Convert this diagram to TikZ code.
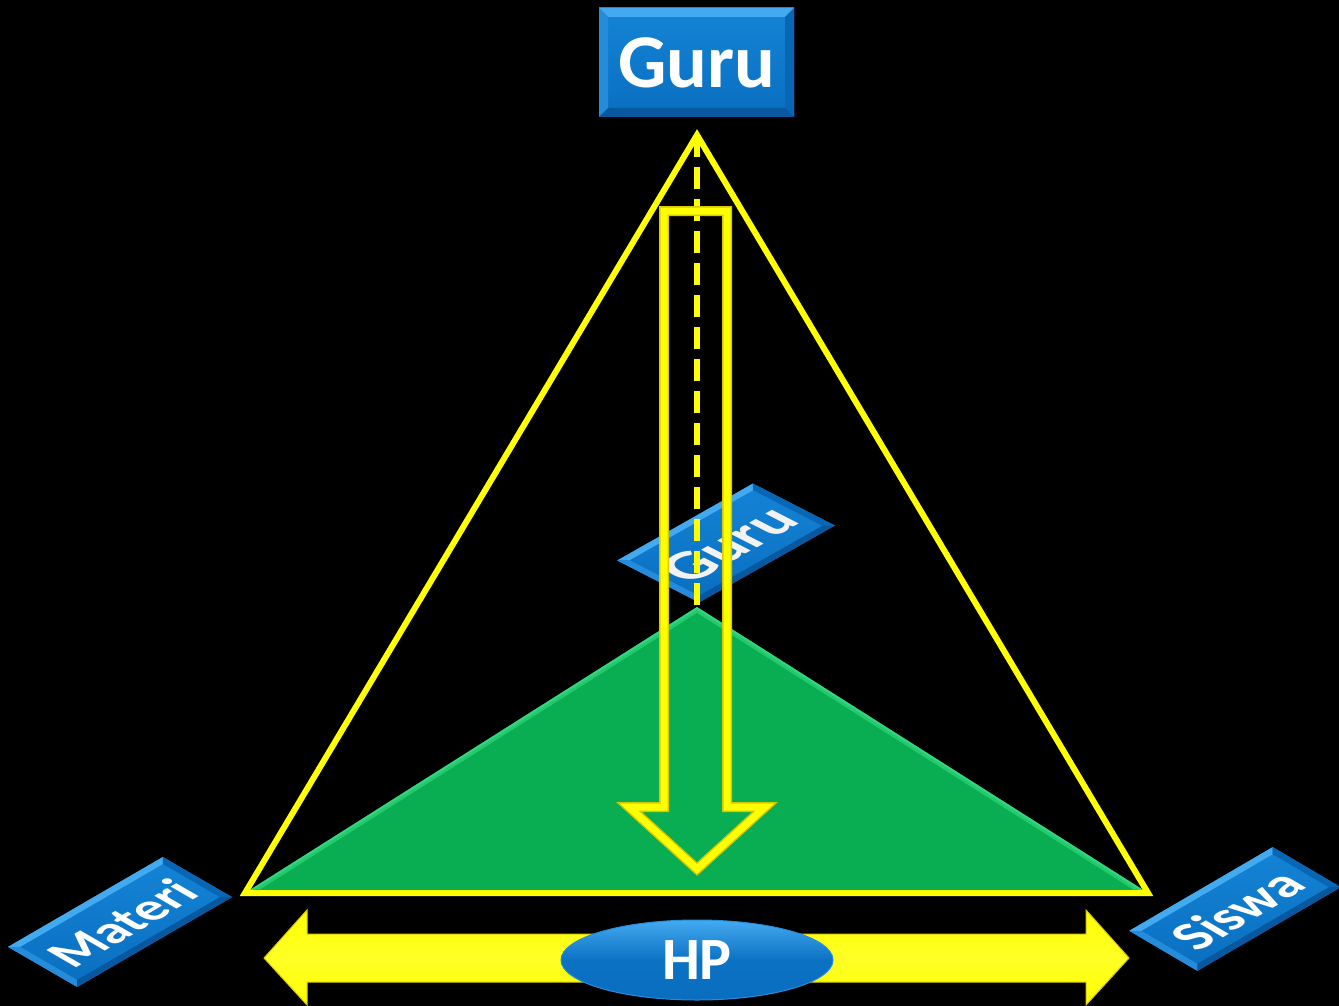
\documentclass[tikz,border=0pt]{standalone}
\usepackage{fontspec}
\setmainfont{Carlito}
\usetikzlibrary{shapes.geometric}
\definecolor{ylw}{HTML}{FFFF00}
\definecolor{ylwd}{HTML}{D8C800}
\definecolor{bmain}{HTML}{0A6EC0}
\definecolor{bupper}{HTML}{1484D6}
\definecolor{blight}{HTML}{44AAF0}
\definecolor{bleft}{HTML}{258CDC}
\definecolor{bright}{HTML}{0866B4}
\definecolor{bdark}{HTML}{07589E}
\definecolor{grn}{HTML}{0AAE52}
\definecolor{grnl}{HTML}{45E890}
\newcommand\mybevel[3]{%
  \shade[top color=bupper, bottom color=bmain] (-#1,-#2) rectangle (#1,#2);
  \fill[blight] (-#1,#2) -- (#1,#2) -- ({#1-#3},{#2-#3}) -- ({-#1+#3},{#2-#3}) -- cycle;
  \fill[bleft] (-#1,#2) -- ({-#1+#3},{#2-#3}) -- ({-#1+#3},{-#2+#3}) -- (-#1,-#2) -- cycle;
  \fill[bright] (#1,#2) -- ({#1-#3},{#2-#3}) -- ({#1-#3},{-#2+#3}) -- (#1,-#2) -- cycle;
  \fill[bdark] (-#1,-#2) -- (#1,-#2) -- ({#1-#3},{-#2+#3}) -- ({-#1+#3},{-#2+#3}) -- cycle;
}
\tikzset{
  labeltext/.style={text=white, inner sep=0pt, transform shape},
  triline/.style={draw=ylw, line width=6pt, line join=miter},
  dashline/.style={draw=ylw, line width=6pt, dash pattern=on 22pt off 10pt},
}
\begin{document}
\begin{tikzpicture}[x=1pt, y=-1pt]
\useasboundingbox (0,0) rectangle (1339,1006);
\fill[black] (0,0) rectangle (1339,1006);

\coordinate (G) at (697,135);
\coordinate (M) at (245,893);
\coordinate (S) at (1148,893);
\coordinate (P) at (697,607);

% middle tilted Guru label
\begin{scope}[shift={(726,543)}, cm={0.870,0.493,-0.890,0.456,(0,0)}, x=1pt, y=1pt]
  \mybevel{78}{46}{7}
  \node[labeltext, text=white!90!gray, font=\fontsize{62}{62}\selectfont\bfseries] (guru2) at (0,-3) {Guru};
\end{scope}

% green triangle
\fill[grn] (P) -- (M) -- (S) -- cycle;
\begin{scope}
  \clip (P) -- (M) -- (S) -- cycle;
  \draw[grnl, line width=10pt, opacity=0.45] (M) -- (P) -- (S);
  \draw[grnl, line width=4pt, opacity=0.45] (M) -- (P) -- (S);
\end{scope}

% dashed line
\draw[dashline] (G) -- (P);

% hollow down arrow
\coordinate (a1) at (664,211);
\coordinate (a2) at (727,211);
\coordinate (a3) at (727,807);
\coordinate (a4) at (765,807);
\coordinate (a5) at (697,869);
\coordinate (a6) at (629,807);
\coordinate (a7) at (664,807);
\draw[ylwd, line width=10pt, line join=miter] (a1) -- (a2) -- (a3) -- (a4) -- (a5) -- (a6) -- (a7) -- cycle;
\draw[ylw, line width=7pt, line join=miter] (a1) -- (a2) -- (a3) -- (a4) -- (a5) -- (a6) -- (a7) -- cycle;

% big triangle
\draw[triline] (G) -- (M) -- (S) -- cycle;

% top Guru box
\begin{scope}[shift={(696.5,62.5)}, x=1pt, y=1pt]
  \mybevel{97.5}{54.5}{9}
  \node[labeltext, font=\fontsize{76}{76}\selectfont\bfseries] (guru) at (0,0) {Guru};
\end{scope}

% Materi
\begin{scope}[shift={(120,922)}, cm={0.865,0.502,-0.865,0.501,(0,0)}, x=1pt, y=1pt]
  \mybevel{89.5}{40}{7}
  \node[labeltext, font=\fontsize{53}{53}\selectfont\bfseries] (materi) at (0,-2) {Materi};
\end{scope}

% Siswa
\begin{scope}[shift={(1235,909)}, cm={0.864,0.504,-0.862,0.507,(0,0)}, x=1pt, y=1pt]
  \mybevel{83}{39.5}{7}
  \node[labeltext, font=\fontsize{55}{55}\selectfont\bfseries] (siswa) at (0,-2) {Siswa};
\end{scope}

% double arrow
\coordinate (d1) at (264,958);
\coordinate (d2) at (307,910);
\coordinate (d3) at (307,934);
\coordinate (d4) at (1086,934);
\coordinate (d5) at (1086,910);
\coordinate (d6) at (1129,958);
\coordinate (d7) at (1086,1005);
\coordinate (d8) at (1086,982);
\coordinate (d9) at (307,982);
\coordinate (d10) at (307,1005);
\shade[top color=ylw, bottom color=ylw, middle color=ylw!85!white, draw=ylwd, line width=1pt]
  (d1) -- (d2) -- (d3) -- (d4) -- (d5) -- (d6) -- (d7) -- (d8) -- (d9) -- (d10) -- cycle;

% HP ellipse
\node[ellipse, minimum width=272pt, minimum height=80pt, inner sep=0pt,
      top color=blight, bottom color=bmain, middle color=bmain!85!bupper, draw=bleft, line width=1pt,
      text=white, font=\fontsize{60}{60}\selectfont\bfseries] (hp) at (697,960) {HP};
\end{tikzpicture}
\end{document}
